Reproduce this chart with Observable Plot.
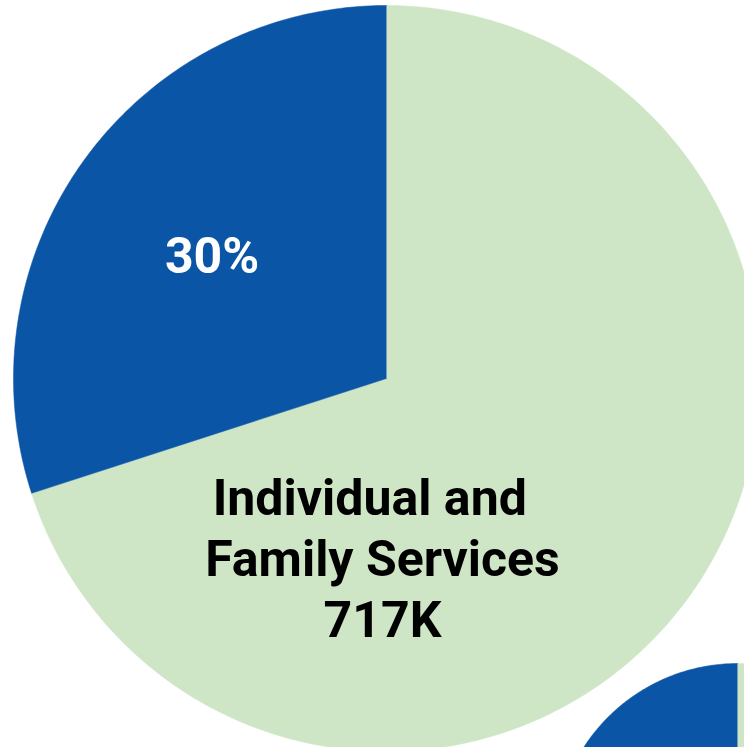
<!DOCTYPE html>
<html><head><meta charset="utf-8">
<script src="https://cdn.jsdelivr.net/npm/d3@7"></script>
<script src="https://cdn.jsdelivr.net/npm/@observablehq/plot@0.6"></script>
<style>html,body{margin:0;padding:0;background:#fff}svg{display:block}</style>
</head><body><div id="chart"></div>
<script>
// Main pie: two slices (green = Individual and Family Services, blue = the rest)
const categories = ["Individual and Family Services", "Other"];
const values = [717, 307];           // thousands
const valueLabels = ["717K", "307K"];
const colors = ["#cfe6c6", "#0a55a5"];
// Second pie, only partly visible at the bottom-right corner (share estimated)
const secondCategories = ["Individual and Family Services", "Other"];
const secondValues = [65, 35];

// layout (data units: main pie radius = 1)
const W = 744, H = 747, R = 373, CX = 386, CY = 378;
const xDomain = [-CX / R, (W - CX) / R];
const yDomain = [-(H - CY) / R, CY / R];
const second = {cx: (737 - CX) / R, cy: -(846 - CY) / R, r: 183 / R};

function slicePolys(vals, cats, cx, cy, r, pieId) {
  const arcs = d3.pie().sort(null).value(d => d)(vals);
  const pts = [];
  arcs.forEach((a, i) => {
    const id = pieId + "-" + i;
    pts.push({id, cat: cats[i], x: cx, y: cy});
    const n = Math.max(2, Math.ceil((a.endAngle - a.startAngle) * 80));
    for (let k = 0; k <= n; k++) {
      const t = a.startAngle + (a.endAngle - a.startAngle) * k / n;
      pts.push({id, cat: cats[i], x: cx + r * Math.sin(t), y: cy + r * Math.cos(t)});
    }
  });
  return {arcs, pts};
}

const main = slicePolys(values, categories, 0, 0, 1, "main");
const sec = slicePolys(secondValues, secondCategories, second.cx, second.cy, second.r, "second");

const total = d3.sum(values);
const blueArc = main.arcs[1];
const mid = (blueArc.startAngle + blueArc.endAngle) / 2;
const labelR = 0.575;
const pctLabel = [{
  x: labelR * Math.sin(mid), y: labelR * Math.cos(mid),
  text: Math.round(values[1] / total * 100) + "%"
}];
const mainLabel = [{x: 0, y: 0, text: "Individual and\u2002\nFamily Services\n" + valueLabels[0]}];

const chart = Plot.plot({
  width: W, height: H,
  margin: 0,
  x: {domain: xDomain, axis: null},
  y: {domain: yDomain, axis: null},
  color: {domain: categories, range: colors},
  style: {background: "#fff"},
  marks: [
    Plot.line(main.pts, {x: "x", y: "y", z: "id", fill: "cat", stroke: "cat", strokeWidth: 0.5, curve: "linear"}),
    Plot.line(sec.pts, {x: "x", y: "y", z: "id", fill: "cat", stroke: "cat", strokeWidth: 0.5, curve: "linear"}),
    Plot.text(pctLabel, {x: "x", y: "y", text: "text", fill: "white", fontSize: 50, fontWeight: 700, fontFamily: "Roboto", dx: -1, dy: 5}),
    Plot.text(mainLabel, {x: "x", y: "y", text: "text", fill: "#000", fontSize: 50, fontWeight: 700, fontFamily: "Roboto", lineHeight: 1.22, dx: -4, dy: 178})
  ]
});
document.getElementById("chart").appendChild(chart);
</script>
</body></html>
